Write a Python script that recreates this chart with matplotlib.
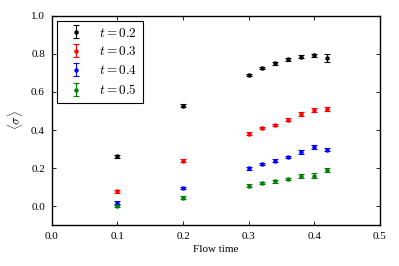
import numpy as np
import matplotlib
matplotlib.use('Agg')
import matplotlib.pyplot as plt

plt.rcParams['font.family'] = 'Liberation Serif'
plt.rcParams['mathtext.fontset'] = 'cm'

flow = [0.1, 0.2, 0.3, 0.32, 0.34, 0.36, 0.38, 0.40, 0.42]
labels = ['$t = 0.2$', '$t = 0.3$', '$t = 0.4$', '$t = 0.5$']
colors = ['k', '#ff0000', '#0000ff', '#008000']

sig_02 = [0.262, 0.528, 0.690, 0.727, 0.750, 0.771, 0.786, 0.793, 0.780]
err_02 = [0.008, 0.007, 0.006, 0.005, 0.006, 0.006, 0.007, 0.007, 0.020]
sig_03 = [0.077, 0.238, 0.381, 0.411, 0.427, 0.455, 0.486, 0.505, 0.509]
err_03 = [0.008, 0.008, 0.008, 0.006, 0.007, 0.006, 0.011, 0.012, 0.011]
sig_04 = [0.018, 0.094, 0.198, 0.222, 0.238, 0.257, 0.283, 0.309, 0.297]
err_04 = [0.010, 0.007, 0.008, 0.006, 0.008, 0.006, 0.011, 0.011, 0.010]
sig_05 = [0.002, 0.044, 0.108, 0.122, 0.131, 0.142, 0.157, 0.159, 0.189]
err_05 = [0.008, 0.007, 0.007, 0.005, 0.008, 0.006, 0.009, 0.013, 0.010]

series = [(sig_02, err_02), (sig_03, err_03), (sig_04, err_04), (sig_05, err_05)]

fig = plt.figure(figsize=(3.99, 2.66), dpi=100)
ax = fig.add_axes([0.13, 0.154, 0.822, 0.786])

for (s, e), c, lab in zip(series, colors, labels):
    ax.errorbar(flow, s, yerr=e, fmt='o', color=c, ms=2.2, mec=c,
                elinewidth=0.8, capsize=2.2, capthick=0.8, label=lab)

ax.set_xlim(0.0, 0.5)
ax.set_ylim(-0.1, 1.0)
ax.set_xticks(np.arange(0, 0.51, 0.1))
ax.set_yticks(np.arange(0, 1.01, 0.2))
ax.tick_params(direction='in', top=True, right=True, labelsize=8, length=3, width=0.6, pad=5)
for sp in ax.spines.values():
    sp.set_linewidth(1.0)
ax.set_xlabel('Flow time', fontsize=8, labelpad=3)
ax.set_ylabel(r'$\langle\sigma\rangle$', fontsize=9)

leg = ax.legend(loc='upper left', numpoints=1, fontsize=9.5, fancybox=False,
                framealpha=1, edgecolor='k', borderaxespad=0.4, handlelength=2.0,
                labelspacing=0.45, borderpad=0.4)
leg.get_frame().set_linewidth(0.8)

fig.savefig('out.png', dpi=100)
